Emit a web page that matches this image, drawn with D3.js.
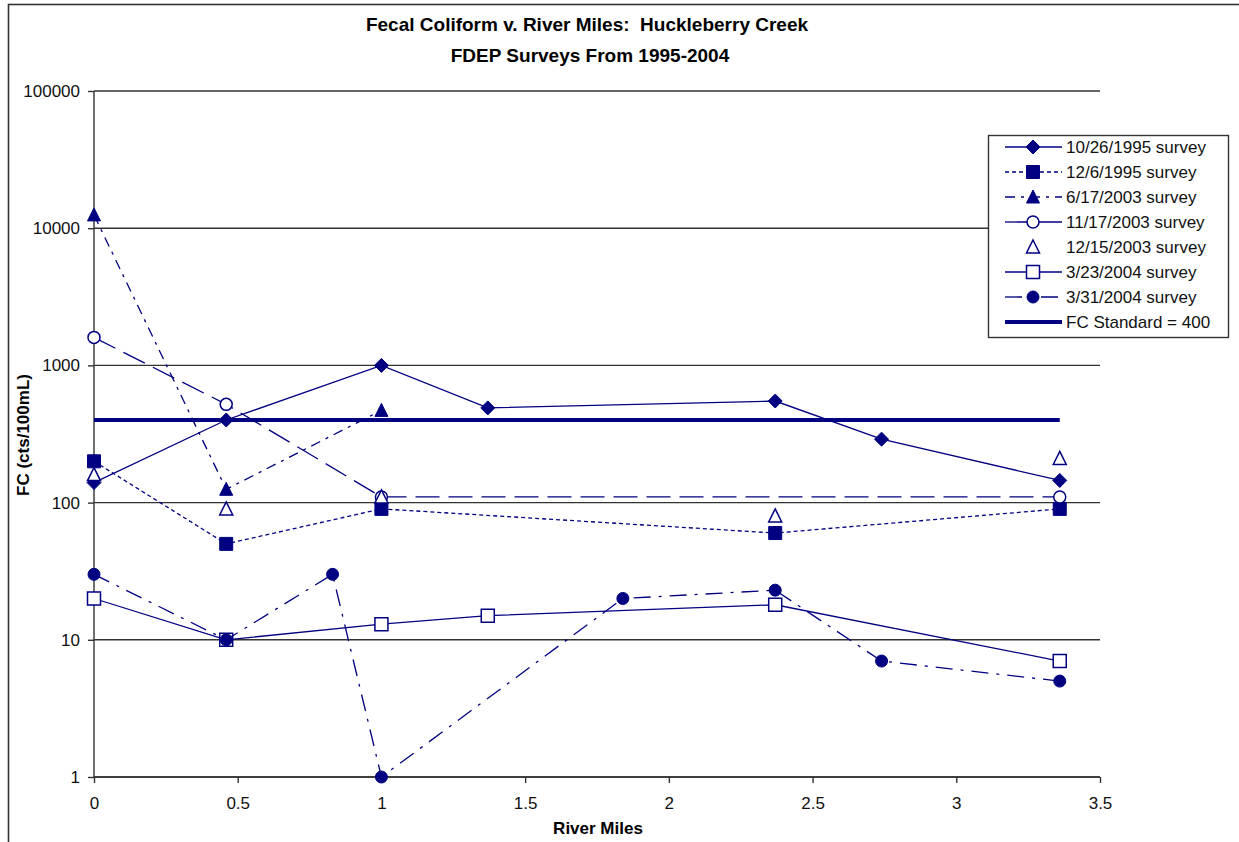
<!DOCTYPE html>
<html>
<head>
<meta charset="utf-8">
<script src="https://cdn.jsdelivr.net/npm/d3@7"></script>
<style>
  html, body { margin: 0; padding: 0; background: #fff; }
  svg { display: block; font-family: Arial, "Liberation Sans", sans-serif; }
  text { white-space: pre; }
</style>
</head>
<body>
<svg id="chart" width="1239" height="842"></svg>
<script>
// Fecal coliform counts (cts/100mL) by river mile for each survey date
const miles1026_1995 = [0, 0.46, 1.0, 1.37, 2.37, 2.74, 3.36];
const fc1026_1995    = [140, 400, 1000, 490, 550, 290, 145];

const miles1206_1995 = [0, 0.46, 1.0, 2.37, 3.36];
const fc1206_1995    = [200, 50, 90, 60, 90];

const miles0617_2003 = [0, 0.46, 1.0];
const fc0617_2003    = [12500, 125, 470];

const miles1117_2003 = [0, 0.46, 1.0, 3.36];
const fc1117_2003    = [1600, 520, 110, 110];

const miles1215_2003 = [0, 0.46, 1.0, 2.37, 3.36];
const fc1215_2003    = [160, 90, 110, 80, 210];

const miles0323_2004 = [0, 0.46, 1.0, 1.37, 2.37, 3.36];
const fc0323_2004    = [20, 10, 13, 15, 18, 7];

const miles0331_2004 = [0, 0.46, 0.83, 1.0, 1.84, 2.37, 2.74, 3.36];
const fc0331_2004    = [30, 10, 30, 1, 20, 23, 7, 5];

const standardMiles = [0, 3.36];
const standardFC    = [400, 400];

const seriesNames = [
  "10/26/1995 survey", "12/6/1995 survey", "6/17/2003 survey", "11/17/2003 survey",
  "12/15/2003 survey", "3/23/2004 survey", "3/31/2004 survey", "FC Standard = 400"
];
const xTicks = [0, 0.5, 1, 1.5, 2, 2.5, 3, 3.5];
const yTicks = [1, 10, 100, 1000, 10000, 100000];

const navy = "#000080";
const axisColor = "#333";

// styling per series: marker shape, fill, and dash pattern
const series = [
  { name: seriesNames[0], x: miles1026_1995, y: fc1026_1995, marker: "diamond",  filled: true,  dash: null,          line: true },
  { name: seriesNames[1], x: miles1206_1995, y: fc1206_1995, marker: "square",   filled: true,  dash: "4,3",         line: true },
  { name: seriesNames[2], x: miles0617_2003, y: fc0617_2003, marker: "triangle", filled: true,  dash: "10,6,3,6",    line: true },
  { name: seriesNames[3], x: miles1117_2003, y: fc1117_2003, marker: "circle",   filled: false, dash: "24,9",        line: true },
  { name: seriesNames[4], x: miles1215_2003, y: fc1215_2003, marker: "triangle", filled: false, dash: null,          line: false },
  { name: seriesNames[5], x: miles0323_2004, y: fc0323_2004, marker: "square",   filled: false, dash: null,          line: true },
  { name: seriesNames[6], x: miles0331_2004, y: fc0331_2004, marker: "circle",   filled: true,  dash: "17,8,3,8",    line: true }
];

const svg = d3.select("#chart");

// outer chart frame
svg.append("rect")
  .attr("x", 8.5).attr("y", 4.5)
  .attr("width", 1260).attr("height", 860)
  .attr("fill", "#fff").attr("stroke", axisColor).attr("stroke-width", 1.6);

const plot = { left: 94, right: 1100, top: 91, bottom: 777 };

const x = d3.scaleLinear().domain([0, 3.5]).range([plot.left, plot.right]);
const y = d3.scaleLog().domain([1, 100000]).range([plot.bottom, plot.top]);

// horizontal gridlines at each decade
svg.append("g")
  .selectAll("line")
  .data(yTicks)
  .join("line")
  .attr("x1", plot.left).attr("x2", plot.right)
  .attr("y1", d => y(d)).attr("y2", d => y(d))
  .attr("stroke", axisColor).attr("stroke-width", 1.4);

// axes
const xAxis = d3.axisBottom(x).tickValues(xTicks).tickSize(6).tickPadding(14)
  .tickFormat(d3.format("~g"));
const gx = svg.append("g").attr("transform", `translate(0,${plot.bottom})`).call(xAxis);

const yAxis = d3.axisLeft(y).tickValues(yTicks).tickSize(6).tickPadding(8)
  .tickFormat(d3.format("d"));
const gy = svg.append("g").attr("transform", `translate(${plot.left},0)`).call(yAxis);

[gx, gy].forEach(g => {
  g.select(".domain").attr("stroke", axisColor).attr("stroke-width", 1.4);
  g.selectAll(".tick line").attr("stroke", axisColor).attr("stroke-width", 1.4);
  g.selectAll(".tick text")
    .attr("fill", "#111")
    .style("font-size", "17px")
    .style("font-family", "Arial, 'Liberation Sans', sans-serif");
});
gx.select(".domain").attr("d", `M${plot.left},0H${plot.right}`);
gy.select(".domain").attr("d", `M0,${plot.bottom}V${plot.top}`);

// titles
const title = svg.append("g").attr("font-weight", "bold").attr("font-size", 19).attr("fill", "#000")
  .attr("text-anchor", "middle");
title.append("text").attr("x", 587).attr("y", 31).text("Fecal Coliform v. River Miles:  Huckleberry Creek");
title.append("text").attr("x", 590).attr("y", 62).text("FDEP Surveys From 1995-2004");

svg.append("text")
  .attr("x", 598).attr("y", 834)
  .attr("text-anchor", "middle").attr("font-weight", "bold").attr("font-size", 17)
  .text("River Miles");

svg.append("text")
  .attr("transform", "translate(29,435) rotate(-90)")
  .attr("text-anchor", "middle").attr("font-weight", "bold").attr("font-size", 17)
  .text("FC (cts/100mL)");

// marker path generator (centered at 0,0)
function markerPath(shape) {
  switch (shape) {
    case "diamond":  return "M0,-7L7,0L0,7L-7,0Z";
    case "square":   return "M-6.5,-6.5H6.5V6.5H-6.5Z";
    case "triangle": return "M0,-7L6.5,6L-6.5,6Z";
    case "circle": {
      const p = d3.path();
      p.arc(0, 0, 6, 0, 2 * Math.PI);
      p.closePath();
      return p.toString();
    }
  }
}

function drawMarker(g, shape, filled, cx, cy) {
  g.append("path")
    .attr("d", markerPath(shape))
    .attr("transform", `translate(${cx},${cy})`)
    .attr("fill", filled ? navy : "#fff")
    .attr("stroke", navy)
    .attr("stroke-width", filled ? 1 : 1.5);
}

const line = d3.line().x(d => x(d[0])).y(d => y(d[1]));

const marks = svg.append("g");
series.forEach(s => {
  const pts = s.x.map((m, i) => [m, s.y[i]]);
  const g = marks.append("g");
  if (s.line) {
    g.append("path")
      .datum(pts)
      .attr("d", line)
      .attr("fill", "none")
      .attr("stroke", navy)
      .attr("stroke-width", 1.3)
      .attr("stroke-dasharray", s.dash);
  }
  pts.forEach(p => drawMarker(g, s.marker, s.filled, x(p[0]), y(p[1])));
});

// FC standard reference line
marks.append("path")
  .datum(standardMiles.map((m, i) => [m, standardFC[i]]))
  .attr("d", line)
  .attr("fill", "none")
  .attr("stroke", navy)
  .attr("stroke-width", 4);

// legend
const legend = svg.append("g");
legend.append("rect")
  .attr("x", 988.5).attr("y", 135.5).attr("width", 240).attr("height", 202)
  .attr("fill", "#fff").attr("stroke", axisColor).attr("stroke-width", 1.4);

const rowY = i => 147 + i * 25;
series.forEach((s, i) => {
  const cy = rowY(i);
  if (s.line) {
    legend.append("line")
      .attr("x1", 1005).attr("x2", 1062).attr("y1", cy).attr("y2", cy)
      .attr("stroke", navy).attr("stroke-width", 1.3)
      .attr("stroke-dasharray", s.dash);
  }
  drawMarker(legend, s.marker, s.filled, 1033, cy);
  legend.append("text")
    .attr("x", 1066).attr("y", cy).attr("dy", "0.36em")
    .attr("font-size", 17).attr("fill", "#111")
    .text(s.name);
});
legend.append("line")
  .attr("x1", 1005).attr("x2", 1062).attr("y1", rowY(7)).attr("y2", rowY(7))
  .attr("stroke", navy).attr("stroke-width", 4);
legend.append("text")
  .attr("x", 1066).attr("y", rowY(7)).attr("dy", "0.36em")
  .attr("font-size", 17).attr("fill", "#111")
  .text(seriesNames[7]);
</script>
</body>
</html>
